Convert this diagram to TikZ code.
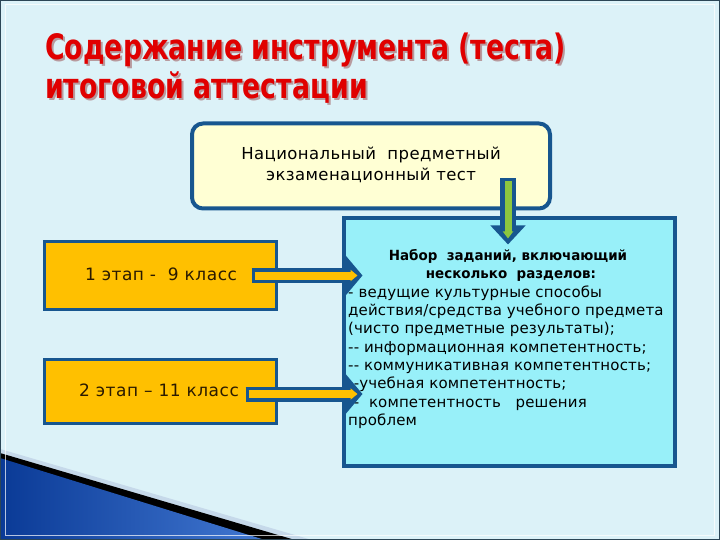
\documentclass[tikz,border=0pt]{standalone}
\usepackage{fontspec}
\setmainfont{DejaVu Sans}
\newfontfamily\bodyfont[LetterSpace=1]{DejaVu Sans}
\newfontfamily\midfont[LetterSpace=3]{DejaVu Sans}
\newfontfamily\natfont[LetterSpace=2.5]{DejaVu Sans}
\usetikzlibrary{arrows.meta,calc}
\definecolor{bg}{HTML}{DCF2F8}
\definecolor{frame}{HTML}{2C4656}
\definecolor{dblue}{HTML}{17568F}
\definecolor{ylw}{HTML}{FFFFD4}
\definecolor{cyn}{HTML}{98F0F9}
\definecolor{orng}{HTML}{FFC000}
\definecolor{grn}{HTML}{8CC63F}
\definecolor{ttlred}{HTML}{E00000}
\definecolor{ttlshade}{HTML}{B89A9E}
\definecolor{txtbrown}{HTML}{2A1A00}
\definecolor{swgray}{HTML}{C6D9EA}
\definecolor{swdark}{HTML}{0A3A96}
\definecolor{swlight}{HTML}{4278D2}
\newcommand{\shadowtext}[1]{\makebox[0pt][l]{\hspace{2pt}\raisebox{-2pt}{\textcolor{ttlshade}{\scalebox{0.765}[1]{#1}}}}\textcolor{ttlred}{\scalebox{0.765}[1]{#1}}}
\tikzset{
  ttl/.style={anchor=base west, inner sep=0, font=\fontsize{35}{40}\selectfont\bfseries},
  natbox/.style={draw=dblue, line width=4pt, fill=ylw, rounded corners=11pt, minimum width=358pt, minimum height=85pt, inner sep=0},
  setbox/.style={draw=dblue, line width=4pt, fill=cyn, minimum width=331pt, minimum height=247pt, inner sep=0},
  stagebox/.style={draw=dblue, line width=3pt, fill=orng, minimum width=232pt, inner sep=0},
  bodytxt/.style={inner sep=0, font=\bodyfont\fontsize{15}{17}\selectfont},
  boldtxt/.style={inner sep=0, font=\fontsize{14}{16}\selectfont\bfseries, anchor=base},
  stagetxt/.style={inner sep=0, font=\midfont\fontsize{17}{19}\selectfont, text=txtbrown, anchor=base},
  nattxt/.style={inner sep=0, font=\natfont\fontsize{16.5}{18}\selectfont, anchor=base},
  arrout/.style={line width=15pt, draw=dblue, -{Triangle[length=19pt,width=44pt]}},
  arrin/.style={line width=8pt, draw=orng, -{Triangle[length=7pt,width=11pt]}},
  garrout/.style={line width=16pt, draw=dblue, -{Triangle[length=19pt,width=34pt]}},
  garrin/.style={line width=7pt, draw=grn, -{Triangle[length=7pt,width=10pt]}},
}
\begin{document}
\begin{tikzpicture}[x=1pt,y=-1pt]
\useasboundingbox (0,0) rectangle (720,540);
\fill[bg] (0,0) rectangle (720,540);
% bottom-left swoosh
\fill[swgray] (0,449) -- (312,540) -- (0,540) -- cycle;
\fill[black] (0,453) -- (295,540) -- (0,540) -- cycle;
\shade[left color=swdark, right color=swlight] (0,458) -- (265,540) -- (0,540) -- cycle;
% frame
\draw[white, line width=1pt, opacity=0.7] (5,5) rectangle (714,535);
\draw[frame, line width=2pt] (0,0) rectangle (720,540);

% title
\node[ttl] (t1) at (45,59.3) {\shadowtext{Содержание инструмента (теста)}};
\node[ttl] (t2) at (45,98.3) {\shadowtext{итоговой аттестации}};

% boxes
\node[natbox] (nat) at (371,166) {};
\node[setbox] (set) at (509,342) {};
\node[stagebox, minimum height=68pt] (st1) at (160,275) {};
\node[stagebox, minimum height=64pt] (st2) at (160,391) {};

% texts
\node[nattxt] (nat1) at (371,160) {Национальный\ \ предметный};
\node[nattxt] (nat2) at (371,181) {экзаменационный тест};
\node[stagetxt] (st1t) at (161,280) {1 этап -\ \ 9 класс};
\node[stagetxt] (st2t) at (159,396) {2 этап – 11 класс};
\node[boldtxt] (h1) at (508,260) {\scalebox{0.96}[1]{Набор\ \ заданий, включающий}};
\node[boldtxt] (h2) at (511,278.3) {\scalebox{0.96}[1]{несколько\ \ разделов:}};
\foreach \t [count=\i] in {{- ведущие культурные способы},
  {действия/средства учебного предмета},
  {(чисто предметные результаты);},
  {-{}- информационная компетентность;},
  {-{}- коммуникативная компетентность;},
  {-{}-учебная компетентность;},
  {-{}-\ \ компетентность\ \ \ решения},
  {проблем}}
  \node[bodytxt, anchor=base west] (body\i) at (348,{297.3+18.3*(\i-1)}) {\t};

% connectors
\coordinate (a1s) at ($(st1.east)+(-26,0.5)$);
\coordinate (a1e) at ($(set.west |- st1.east)+(21,0.5)$);
\draw[arrout] (a1s) -- (a1e);
\draw[arrin] ($(a1s)+(3,0)$) -- ($(a1e)+(-5,0)$);
\coordinate (a2s) at ($(st2.east)+(-32,3)$);
\coordinate (a2e) at ($(set.west |- st2.east)+(21,3)$);
\draw[arrout] (a2s) -- (a2e);
\draw[arrin] ($(a2s)+(3,0)$) -- ($(a2e)+(-5,0)$);
\coordinate (g1s) at ($(nat.south)+(137,-32)$);
\coordinate (g1e) at ($(set.north -| g1s)+(0,28)$);
\draw[garrout] (g1s) -- (g1e);
\draw[garrin] ($(g1s)+(0,3)$) -- ($(g1e)+(0,-6)$);
\end{tikzpicture}
\end{document}
